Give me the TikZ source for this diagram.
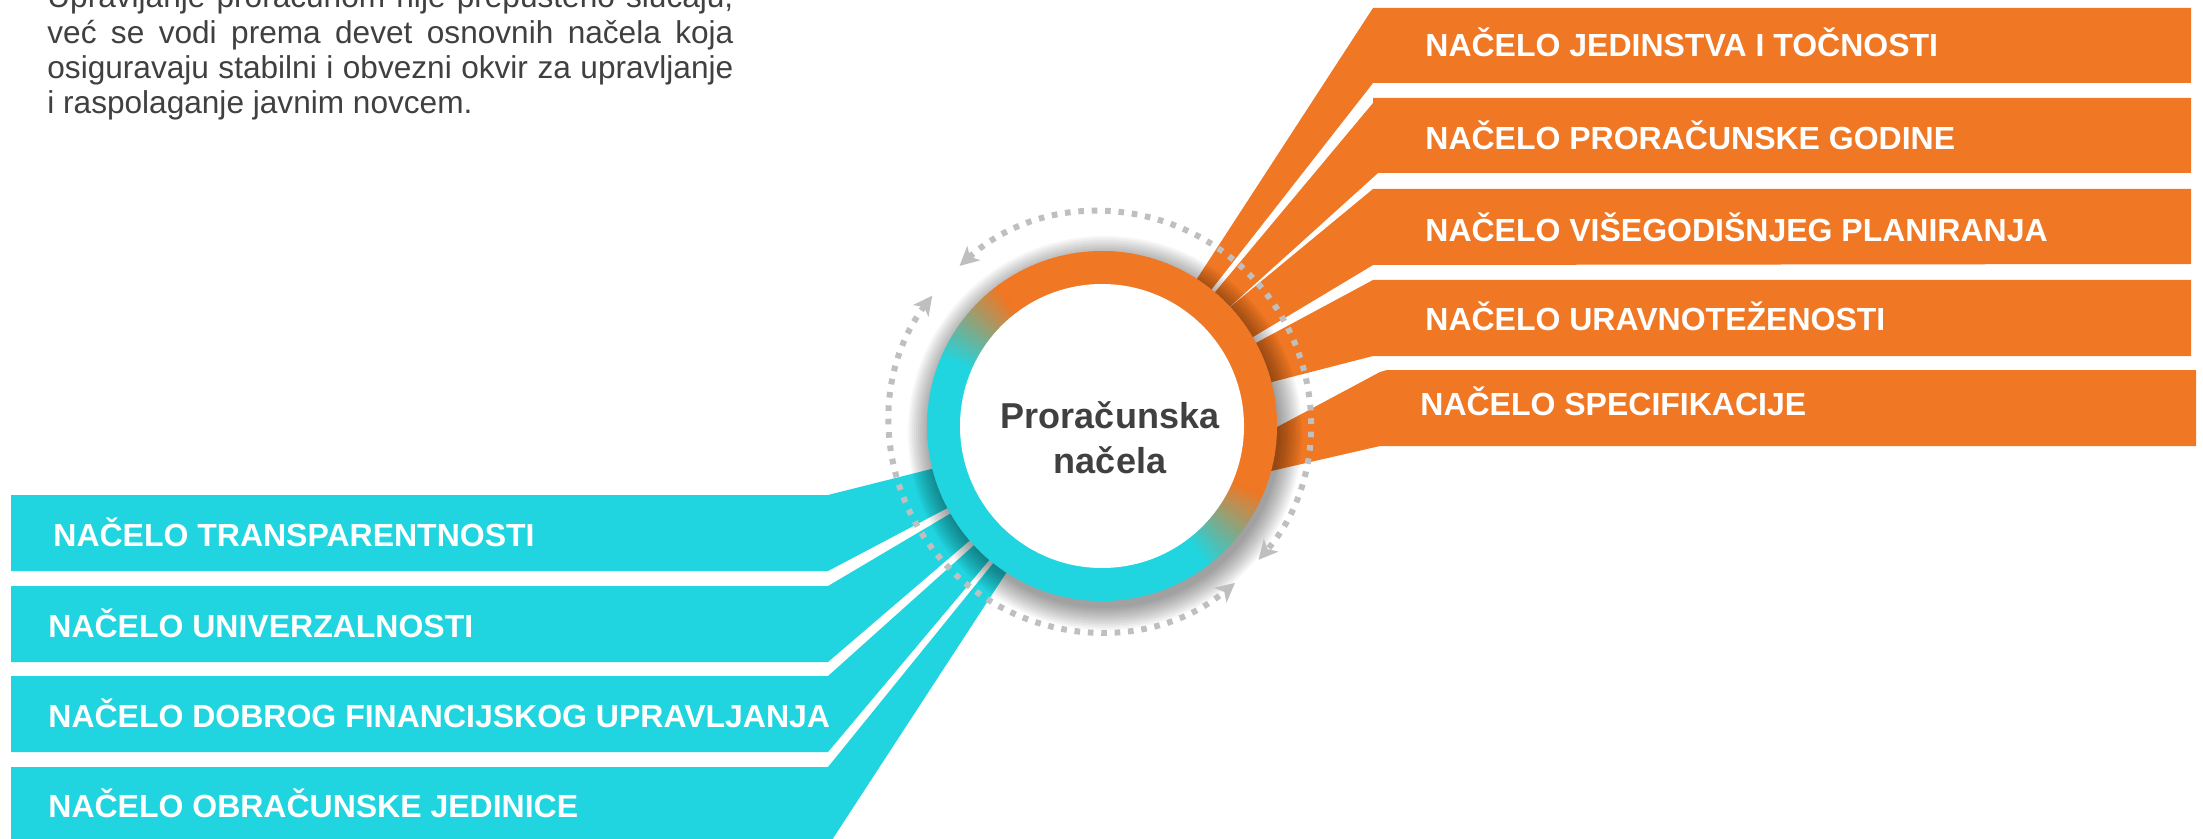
\documentclass[tikz,border=0pt]{standalone}
\usepackage{fontspec}
\setmainfont{Liberation Sans}
\usetikzlibrary{arrows.meta}
\definecolor{orng}{RGB}{240,119,35}
\definecolor{cyn}{RGB}{32,213,223}
\definecolor{dotg}{RGB}{191,191,191}
\definecolor{txtg}{RGB}{64,64,64}
\begin{document}
\begin{tikzpicture}[x=0.5pt,y=-0.5pt,
  bandtext/.style={anchor=base west, inner sep=0pt, text=white, font=\fontsize{16pt}{19pt}\selectfont\bfseries},
  paraline/.style={anchor=base west, inner sep=0pt, text=txtg, font=\fontsize{15.8pt}{19pt}\selectfont},
  hubtext/.style={anchor=base, inner sep=0pt, text=txtg, font=\fontsize{18pt}{22pt}\selectfont\bfseries},
  orangeband/.style={fill=orng},
  cyanband/.style={fill=cyn},
  dotarc/.style={draw=dotg, line width=3pt, dash pattern=on 2.8pt off 3.9pt,
     {Stealth[length=9.5pt,width=9.5pt,inset=2.5pt]}-{Stealth[length=9.5pt,width=9.5pt,inset=2.5pt]}}
]
\useasboundingbox (0,0) rectangle (2203,839);
\clip (0,0) rectangle (2203,839);
\fill[white] (0,0) rectangle (2203,839);

% paragraph
\node[paraline] (p1) at (47,8) {\makebox[343pt][s]{Upravljanje proračunom nije prepušteno slučaju,}};
\node[paraline] (p2) at (47,44) {\makebox[343pt][s]{već se vodi prema devet osnovnih načela koja}};
\node[paraline] (p3) at (47,79) {\makebox[343pt][s]{osiguravaju stabilni i obvezni okvir za upravljanje}};
\node[paraline] (p4) at (47,114) {i raspolaganje javnim novcem.};

% right orange bands
\fill[orangeband] (1373,8) -- (2191,8) -- (2191,83) -- (1373,83) -- (1190,317) -- (1176,311) -- cycle;
\fill[orangeband] (1373,98) -- (2191,98) -- (2191,173) -- (1378,173) -- (1203,331) -- (1190,322) -- (1373,103) -- cycle;
\fill[orangeband] (1373,189) -- (2191,189) -- (2191,264) -- (1373,265) -- (1223,355) -- (1201,331) -- cycle;
\fill[orangeband] (1373,280) -- (2191,280) -- (2191,356) -- (1373,356) -- (1233,392) -- (1226,359) -- cycle;
\fill[orangeband] (1387,370) -- (2196,370) -- (2196,446) -- (1380,446) -- (1232,480) -- (1236,449) -- (1380,372) -- cycle;

% left cyan bands
\fill[cyanband] (11,495) -- (828,495) -- (967,460) -- (978,492) -- (828,571) -- (11,571) -- cycle;
\fill[cyanband] (11,586) -- (828,586) -- (980,496) -- (996,518) -- (828,662) -- (11,662) -- cycle;
\fill[cyanband] (11,676) -- (828,676) -- (1001,521) -- (1012,533) -- (828,752) -- (11,752) -- cycle;
\fill[cyanband] (11,767) -- (828,767) -- (1016,535) -- (1025,544) -- (830,843) -- (11,843) -- cycle;

% band labels
\node[bandtext] (r1) at (1425,57) {NAČELO JEDINSTVA I TOČNOSTI};
\node[bandtext] (r2) at (1425,150) {NAČELO PRORAČUNSKE GODINE};
\node[bandtext] (r3) at (1425,242) {NAČELO VIŠEGODIŠNJEG PLANIRANJA};
\node[bandtext] (r4) at (1425,330) {NAČELO URAVNOTEŽENOSTI};
\node[bandtext] (r5) at (1420,415) {NAČELO SPECIFIKACIJE};
\node[bandtext] (l1) at (53,546) {NAČELO TRANSPARENTNOSTI};
\node[bandtext] (l2) at (48,637) {NAČELO UNIVERZALNOSTI};
\node[bandtext] (l3) at (48,727) {NAČELO DOBROG FINANCIJSKOG UPRAVLJANJA};
\node[bandtext] (l4) at (48,817) {NAČELO OBRAČUNSKE JEDINICE};

% soft shadow of the ring
\foreach \k in {1,...,12}{
  \fill[black, opacity=0.035] (1105,433) circle[radius=173+\k*2];
}

% ring with orange/cyan transition
\begin{scope}[shift={(1102,426)}]
\foreach \t in {0,2,...,358}{
  \pgfmathsetmacro{\pr}{cos(\t+1-52)}
  \pgfmathsetmacro{\pp}{max(0,min(100,(\pr+0.26)/0.52*100))}
  \fill[orng!\pp!cyn] (-\t:175) arc[start angle=-\t, end angle=-\t-2.5, radius=175]
     -- (-\t-2.5:140) arc[start angle=-\t-2.5, end angle=-\t, radius=140] -- cycle;
}
\end{scope}

% hub
\node[circle, fill=white, minimum size=142pt, inner sep=0pt] (hub) at (1102,426) {};
\node[hubtext] (h1) at (1110,428) {Proračunska};
\node[hubtext] (h2) at (1110,473) {načela};

% dotted cycle arrows
\coordinate (dc) at (1100,422);
\draw[dotarc] (dc) ++(-132:210) arc[start angle=-132, end angle=41, radius=210];
\draw[dotarc] (dc) ++(-143:210) arc[start angle=-143, end angle=-310, radius=210];
\end{tikzpicture}
\end{document}
